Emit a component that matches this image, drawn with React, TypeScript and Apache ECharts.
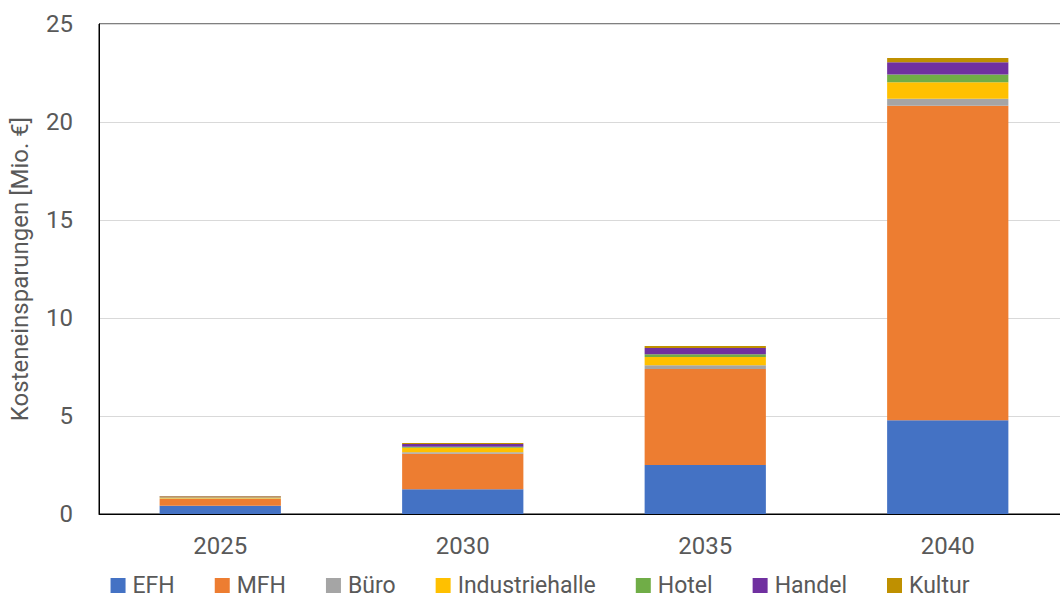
import React, { useEffect, useRef } from "react";
import * as echarts from "echarts";

const categories = ["2025", "2030", "2035", "2040"];
const seriesNames = ["EFH", "MFH", "Büro", "Industriehalle", "Hotel", "Handel", "Kultur"];
const efh = [0.42, 1.26, 2.5, 4.78];
const mfh = [0.34, 1.82, 4.9, 16.05];
const buero = [0.03, 0.07, 0.19, 0.36];
const industriehalle = [0.05, 0.23, 0.42, 0.84];
const hotel = [0.01, 0.05, 0.14, 0.39];
const handel = [0.04, 0.14, 0.32, 0.63];
const kultur = [0.03, 0.05, 0.1, 0.22];
const colors = ["#4472C4", "#ED7D31", "#A5A5A5", "#FFC000", "#70AD47", "#7030A0", "#BF9000"];
const yTicks = { min: 0, max: 25, interval: 5 };
const yAxisTitle = "Kosteneinsparungen [Mio. €]";

const FONT = "Roboto";

export default function App() {
  const ref = useRef<HTMLDivElement>(null);
  useEffect(() => {
    if (!ref.current) return;
    const chart = echarts.init(ref.current, undefined, { renderer: "svg" });
    const values = [efh, mfh, buero, industriehalle, hotel, handel, kultur];
    chart.setOption({
      animation: false,
      color: colors,
      textStyle: { fontFamily: FONT },
      grid: {
        left: 99,
        right: 11,
        top: 24,
        bottom: 87,
        show: true,
        borderColor: "#000",
        borderWidth: 1,
      },
      legend: {
        data: seriesNames,
        top: 574,
        left: "center",
        padding: 0,
        icon: "rect",
        itemWidth: 15,
        itemHeight: 15,
        itemGap: 40,
        textStyle: { fontFamily: FONT, fontSize: 23, lineHeight: 22, color: "#595959", padding: [0, 0, 0, 2] },
      },
      xAxis: {
        type: "category",
        data: categories,
        axisTick: { show: false },
        axisLine: { show: true, lineStyle: { color: "#000", width: 1 } },
        axisLabel: { fontFamily: FONT, fontSize: 24, color: "#595959", margin: 20 },
      },
      yAxis: {
        type: "value",
        min: yTicks.min,
        max: yTicks.max,
        interval: yTicks.interval,
        name: yAxisTitle,
        nameLocation: "middle",
        nameGap: 67,
        nameTextStyle: { fontFamily: FONT, fontSize: 24, color: "#595959" },
        axisLine: { show: true, lineStyle: { color: "#000", width: 1 } },
        axisTick: { show: false },
        axisLabel: { fontFamily: FONT, fontSize: 24, color: "#595959", margin: 26 },
        splitLine: { show: true, lineStyle: { color: "#D9D9D9", width: 1 } },
      },
      series: seriesNames.map((name, i) => ({
        name,
        type: "bar",
        stack: "total",
        barCategoryGap: "50%",
        data: values[i],
        itemStyle: { color: colors[i] },
      })),
    });
    return () => chart.dispose();
  }, []);
  return (
    <div style={{ position: "fixed", left: 0, top: 0, width: 1060, height: 601, overflow: "hidden", background: "#fff" }}>
      <div ref={ref} style={{ width: 1080, height: 601 }} />
    </div>
  );
}
